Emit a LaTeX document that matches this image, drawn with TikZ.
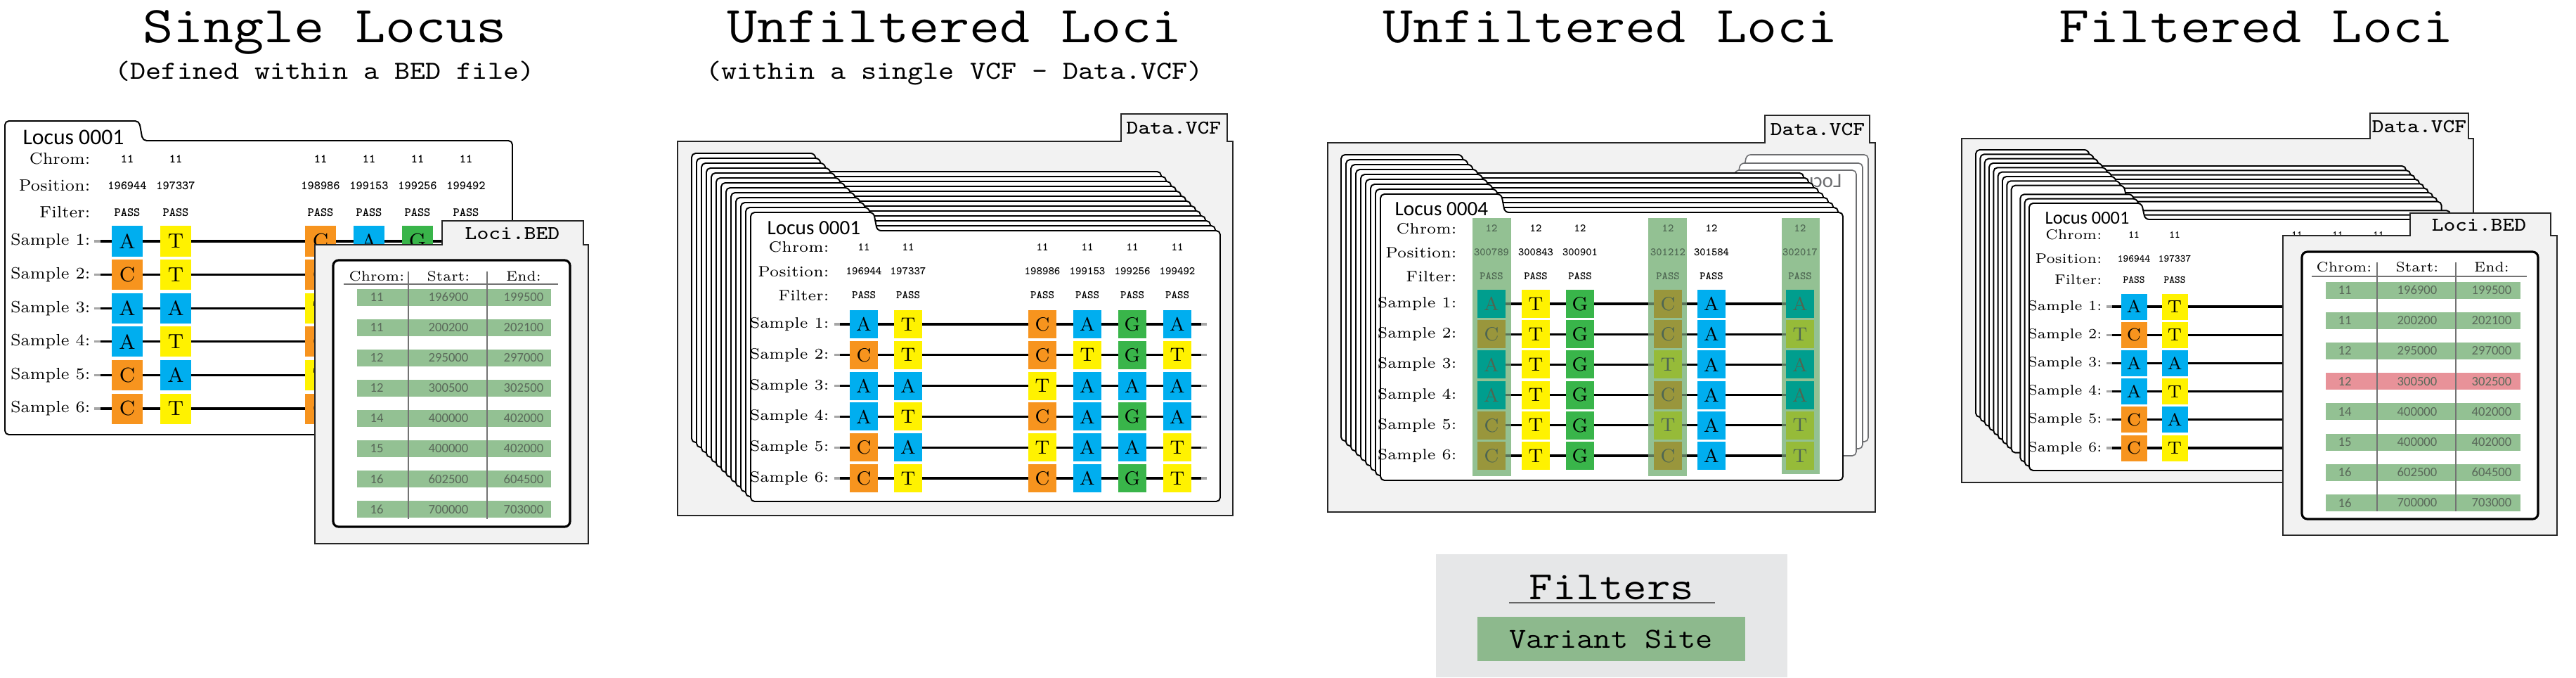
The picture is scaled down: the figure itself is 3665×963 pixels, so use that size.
\documentclass[tikz,border=0pt]{standalone}
\usepackage{fontspec}
\newfontfamily\cardfont{Carlito}
\definecolor{cA}{RGB}{0,174,239}
\definecolor{cT}{RGB}{255,242,0}
\definecolor{cC}{RGB}{247,148,30}
\definecolor{cG}{RGB}{57,181,74}
\definecolor{mA}{RGB}{0,158,142}
\definecolor{mC}{RGB}{153,150,60}
\definecolor{mT}{RGB}{150,187,57}
\colorlet{ctext}{black}
\definecolor{mtext}{RGB}{78,102,82}
\definecolor{rowgreen}{RGB}{147,193,147}
\definecolor{rowpink}{RGB}{232,146,153}
\definecolor{folderfill}{RGB}{242,242,242}
\definecolor{filtergray}{RGB}{230,231,232}
\definecolor{filtergreen}{RGB}{141,185,141}
\definecolor{ghost}{RGB}{109,110,113}
\definecolor{bedtext}{RGB}{90,105,90}
\newcommand{\fs}[1]{\fontsize{#1}{#1}\selectfont}
% locus card: left, tab top, right, bottom, tab right, body top
\newcommand{\lcard}[6]{\draw[card] (#1,#4) -- (#1,#2) -- (#5,#2) -- ({#5+5},#6) -- (#3,#6) -- (#3,#4) -- cycle;}
% file folder: left, body top, right, bottom, tab left, tab right, tab top
\newcommand{\folder}[7]{\draw[folder] (#1,#2) -- (#5,#2) -- (#5,#7) -- (#6,#7) -- (#6,#2) -- (#3,#2) -- (#3,#4) -- (#1,#4) -- cycle;}
\tikzset{
  card/.style={draw=black, fill=white, line width=0.55pt, rounded corners=1.6pt},
  ghostcard/.style={draw=ghost, fill=white, line width=0.45pt, rounded corners=1.6pt},
  folder/.style={draw=black!85, fill=folderfill, line width=0.7pt},
  bedcard/.style={draw=black, fill=white, line width=0.9pt, rounded corners=2.2pt},
  mono/.style={font=\ttfamily\fs{#1}, xscale=1.14, inner sep=0},
  lab/.style={font=\fs{#1}, anchor=east, inner sep=0},
  hdr/.style={font=\ttfamily\bfseries\fs{#1}, inner sep=0},
  nuc/.style={minimum size=#1, inner sep=0},
  locus/.style={font=\cardfont\fs{#1}, anchor=base west, inner sep=0},
  sline/.style={line width=0.95pt, black},
  stub/.style={line width=0.95pt, black!35},
  bedhead/.style={font=\fs{5.6}, inner sep=0},
  bednum/.style={font=\cardfont\fs{5.3}, text=bedtext, inner sep=0},
  sep/.style={draw=black!55, line width=0.35pt},
}

\begin{document}
\begin{tikzpicture}[x=0.01cm, y=-0.01cm]
\useasboundingbox (0,0) rectangle (3665,963);

% --- single locus ---
\node[mono=20.9, anchor=base] (title1) at (462,60) {Single Locus};
\node[mono=10.5, anchor=base] (sub1) at (462,112) {(Defined within a BED file)};
\lcard{7}{172}{729}{618}{198}{200}
\node[locus=9] (loc1) at (32,205) {Locus 0001};
\node[lab=6.6] (p1chrom) at (129,226) {Chrom:};
\node[lab=6.6] (p1pos) at (129,264) {Position:};
\node[lab=6.6] (p1filt) at (129,302) {Filter:};
\foreach \p [count=\c] in {196944,197337,198986,199153,199256,199492} {
  \pgfmathsetmacro{\cx}{{181,250,456,525,594,663}[\c-1]}
  \node[hdr=5] (p1c\c) at (\cx,226) {11};
  \node[hdr=5] (p1p\c) at (\cx,264) {\p};
  \node[hdr=5] (p1f\c) at (\cx,302) {PASS};
}
\foreach \r in {1,...,6} {
  \pgfmathsetmacro{\ry}{343+47.6*(\r-1)}
  \node[lab=6.6] (p1s\r) at (129,\ry) {Sample \r:};
  \coordinate (p1a\r) at (134,\ry);
  \coordinate (p1z\r) at (715,\ry);
  \draw[sline] (p1a\r) -- (p1z\r);
  \draw[stub] (p1a\r) -- ++(9,0);
}
% only the boxes left uncovered by the BED file
\foreach \row [count=\r] in {{A,T,C,A,G,A},{C,T,C,T,G,T},{A,A,T,A,A,A},{A,T,C,A,G,A},{C,A,T,A,A,T},{C,T,C,A,G,T}} {
  \pgfmathsetmacro{\ry}{343+47.6*(\r-1)}
  \foreach \b [count=\c] in \row {
    \pgfmathtruncatemacro{\seen}{(\c<4)||((\r==1)&&(\c<6))}
    \ifnum\seen=1
      \pgfmathsetmacro{\cx}{{181,250,456,525,594,663}[\c-1]}
      \node[nuc=0.43cm, fill=c\b, font=\fs{8.3}] (p1b\r\c) at (\cx,\ry) {\b};
    \fi
  }
}
% BED file on top
\folder{448}{348}{837}{773}{629}{830}{314}
\node[mono=7.9] (bed1) at (729,332) {Loci.BED};
\draw[bedcard] (474,370) rectangle (811,749);
\node[bedhead] (b1hc) at (536,393) {Chrom:};
\node[bedhead] (b1hs) at (638,393) {Start:};
\node[bedhead] (b1he) at (745,393) {End:};
\draw[sep] (489,404) -- (794,404);
\foreach \ch/\st/\en [count=\k] in {11/196900/199500,11/200200/202100,12/295000/297000,12/300500/302500,14/400000/402000,15/400000/402000,16/602500/604500,16/700000/703000} {
  \pgfmathsetmacro{\ky}{422.5+43.1*(\k-1)}
  \fill[rowgreen] (508,\ky-12) rectangle (784,\ky+12);
  \node[bednum] (b1c\k) at (536,\ky) {\ch};
  \node[bednum] (b1s\k) at (638,\ky) {\st};
  \node[bednum] (b1e\k) at (745,\ky) {\en};
}
\draw[sep] (581,386) -- (581,738);
\draw[sep] (693,386) -- (693,738);

% --- unfiltered loci, one VCF ---
\node[mono=20.9, anchor=base] (title2) at (1358,60) {Unfiltered Loci};
\node[mono=10.5, anchor=base] (sub2) at (1358,112) {(within a single VCF - Data.VCF)};
\folder{964}{201}{1754}{733}{1595}{1746}{162}
\node[mono=7.9] (vcf2) at (1670,182) {Data.VCF};
\foreach \k in {0,...,12}
  \lcard{984+7*\k}{218+7*\k}{1652+7*\k}{629+7*\k}{1159+7*\k}{244+7*\k}
\node[locus=8.3] (loc2) at (1091,333) {Locus 0001};
\node[lab=6.1] (p2chrom) at (1180,351) {Chrom:};
\node[lab=6.1] (p2pos) at (1180,386) {Position:};
\node[lab=6.1] (p2filt) at (1180,420) {Filter:};
\foreach \p [count=\c] in {196944,197337,198986,199153,199256,199492} {
  \pgfmathsetmacro{\cx}{{1229,1292,1483,1547,1611,1675}[\c-1]}
  \node[hdr=4.6] (p2c\c) at (\cx,351) {11};
  \node[hdr=4.6] (p2p\c) at (\cx,386) {\p};
  \node[hdr=4.6] (p2f\c) at (\cx,420) {PASS};
}
\foreach \r in {1,...,6} {
  \pgfmathsetmacro{\ry}{461+43.8*(\r-1)}
  \node[lab=6.1] (p2s\r) at (1180,\ry) {Sample \r:};
  \coordinate (p2a\r) at (1187,\ry);
  \coordinate (p2z\r) at (1717,\ry);
  \draw[sline] (p2a\r) -- (p2z\r);
  \draw[stub] (p2a\r) -- ++(8,0);
  \draw[stub] (p2z\r) -- ++(-8,0);
}
\foreach \row [count=\r] in {{A,T,C,A,G,A},{C,T,C,T,G,T},{A,A,T,A,A,A},{A,T,C,A,G,A},{C,A,T,A,A,T},{C,T,C,A,G,T}} {
  \pgfmathsetmacro{\ry}{461+43.8*(\r-1)}
  \foreach \b [count=\c] in \row {
    \pgfmathsetmacro{\cx}{{1229,1292,1483,1547,1611,1675}[\c-1]}
    \node[nuc=0.40cm, fill=c\b, font=\fs{7.7}] (p2b\r\c) at (\cx,\ry) {\b};
  }
}

% --- unfiltered loci, variant site filter ---
\node[mono=20.9, anchor=base] (title3) at (2291,60) {Unfiltered Loci};
\folder{1889}{203}{2668}{728}{2511}{2660}{164}
\node[mono=7.9] (vcf3) at (2586,184) {Data.VCF};
% cards turned over (already handled)
\draw[ghostcard] (2658,628) -- (2658,220) -- (2485,220) -- (2480,246) -- (2000,246) -- (2000,628) -- cycle;
\draw[ghostcard] (2650,638) -- (2650,232) -- (2476,232) -- (2471,258) -- (1992,258) -- (1992,638) -- cycle;
\draw[ghostcard] (2641,648) -- (2641,242) -- (2469,242) -- (2464,268) -- (1983,268) -- (1983,648) -- cycle;
\node[locus=8.3, text=ghost, xscale=-1] (ghostlab) at (2621,266) {Locus 0003};
\foreach \k in {0,...,8}
  \lcard{1908+7*\k}{220+7*\k}{2566+7*\k}{627+7*\k}{2080+7*\k}{246+7*\k}
\node[locus=8.3] (loc3) at (1984,306) {Locus 0004};
\node[lab=6.1] (p3chrom) at (2073,325) {Chrom:};
\node[lab=6.1] (p3pos) at (2073,359) {Position:};
\node[lab=6.1] (p3filt) at (2073,393) {Filter:};
\foreach \lo/\hi/\bt in {2095/2150/677,2345/2400/677,2535/2589/674}
  \fill[rowgreen] (\lo,310) rectangle (\hi,\bt);
\foreach \r in {1,...,6} {
  \pgfmathsetmacro{\ry}{432+43.2*(\r-1)}
  \node[lab=6.1] (p3s\r) at (2073,\ry) {Sample \r:};
  \coordinate (p3a\r) at (2122,\ry);
  \coordinate (p3z\r) at (2561,\ry);
  \draw[sline] (p3a\r) -- (p3z\r);
}
\foreach \lo/\hi/\bt in {2095/2150/677,2345/2400/677,2535/2589/674}
  \fill[rowgreen, opacity=0.6] (\lo,310) rectangle (\hi,\bt);
\foreach \p [count=\c] in {300789,300843,300901,301212,301584,302017} {
  \pgfmathsetmacro{\cx}{{2122,2185,2248,2373,2435,2561}[\c-1]}
  \ifnum\c=2 \def\tone{c}\else\ifnum\c=3 \def\tone{c}\else\ifnum\c=5 \def\tone{c}\else\def\tone{m}\fi\fi\fi
  \node[hdr=4.5, text=\tone text] (p3c\c) at (\cx,325) {12};
  \node[hdr=4.5, text=\tone text] (p3p\c) at (\cx,359) {\p};
  \node[hdr=4.5, text=\tone text] (p3f\c) at (\cx,393) {PASS};
}
\foreach \row [count=\r] in {{A,T,G,C,A,A},{C,T,G,C,A,T},{A,T,G,T,A,A},{A,T,G,C,A,A},{C,T,G,T,A,T},{C,T,G,C,A,T}} {
  \pgfmathsetmacro{\ry}{432+43.2*(\r-1)}
  \foreach \b [count=\c] in \row {
    \pgfmathsetmacro{\cx}{{2122,2185,2248,2373,2435,2561}[\c-1]}
    \ifnum\c=2 \def\tone{c}\else\ifnum\c=3 \def\tone{c}\else\ifnum\c=5 \def\tone{c}\else\def\tone{m}\fi\fi\fi
    \node[nuc=0.40cm, fill=\tone\b, text=\tone text, font=\fs{7.7}] (p3b\r\c) at (\cx,\ry) {\b};
  }
}

% --- filtered loci ---
\node[mono=20.9, anchor=base] (title4) at (3210,60) {Filtered Loci};
\folder{2791}{197}{3519}{686}{3372}{3512}{161}
\node[mono=7.9] (vcf4) at (3442,180) {Data.VCF};
\foreach \k in {0,1,2,3,4,5,6,7,8,10,11,12}
  \lcard{2811+6.33*\k}{213+6.33*\k}{3423+6.33*\k}{593+6.33*\k}{2971+6.33*\k}{236+6.33*\k}
\node[locus=7.5] (loc4) at (2909,318) {Locus 0001};
\node[lab=5.7] (p4chrom) at (2991,334) {Chrom:};
\node[lab=5.7] (p4pos) at (2991,368) {Position:};
\node[lab=5.7] (p4filt) at (2991,398) {Filter:};
\foreach \p [count=\c] in {196944,197337} {
  \pgfmathsetmacro{\cx}{{3036,3094}[\c-1]}
  \node[hdr=4.2] (p4c\c) at (\cx,334) {11};
  \node[hdr=4.2] (p4p\c) at (\cx,368) {\p};
  \node[hdr=4.2] (p4f\c) at (\cx,398) {PASS};
}
% chromosome row peeking above the BED file
\foreach \cx [count=\c from 3] in {3268,3326,3384}
  \node[hdr=4.2] (p4c\c) at (\cx,334) {11};
\foreach \r in {1,...,6} {
  \pgfmathsetmacro{\ry}{436+40.2*(\r-1)}
  \node[lab=5.7] (p4s\r) at (2991,\ry) {Sample \r:};
  \coordinate (p4a\r) at (2997,\ry);
  \coordinate (p4z\r) at (3400,\ry);
  \draw[sline] (p4a\r) -- (p4z\r);
  \draw[stub] (p4a\r) -- ++(8,0);
}
\foreach \row [count=\r] in {{A,T},{C,T},{A,A},{A,T},{C,A},{C,T}} {
  \pgfmathsetmacro{\ry}{436+40.2*(\r-1)}
  \foreach \b [count=\c] in \row {
    \pgfmathsetmacro{\cx}{{3036,3094}[\c-1]}
    \node[nuc=0.37cm, fill=c\b, font=\fs{7.1}] (p4b\r\c) at (\cx,\ry) {\b};
  }
}
% BED file with the dropped region
\folder{3248}{335}{3638}{761}{3429}{3629}{303}
\node[mono=7.9] (bed4) at (3527,320) {Loci.BED};
\draw[bedcard] (3275,358) rectangle (3611,738);
\node[bedhead] (b4hc) at (3335,380) {Chrom:};
\node[bedhead] (b4hs) at (3439,380) {Start:};
\node[bedhead] (b4he) at (3545,380) {End:};
\draw[sep] (3289,393) -- (3595,393);
\foreach \ch/\st/\en [count=\k] in {11/196900/199500,11/200200/202100,12/295000/297000,12/300500/302500,14/400000/402000,15/400000/402000,16/602500/604500,16/700000/703000} {
  \pgfmathsetmacro{\ky}{412.5+43.2*(\k-1)}
  \ifnum\k=4 \def\rc{rowpink}\else\def\rc{rowgreen}\fi
  \fill[\rc] (3309,\ky-12) rectangle (3586,\ky+12);
  \node[bednum] (b4c\k) at (3336,\ky) {\ch};
  \node[bednum] (b4s\k) at (3439,\ky) {\st};
  \node[bednum] (b4e\k) at (3545,\ky) {\en};
}
\draw[sep] (3382,373) -- (3382,727);
\draw[sep] (3494,373) -- (3494,727);

% --- filter legend ---
\fill[filtergray] (2043,788) rectangle (2543,963);
\node[mono=16.2, anchor=base] (filters) at (2293,852) {Filters};
\draw[black!60, line width=0.5pt] (2147,857) -- (2440,857);
\fill[filtergreen] (2102,877) rectangle (2483,940);
\node[mono=11.7] (vsite) at (2292,909) {Variant Site};
\end{tikzpicture}
\end{document}
